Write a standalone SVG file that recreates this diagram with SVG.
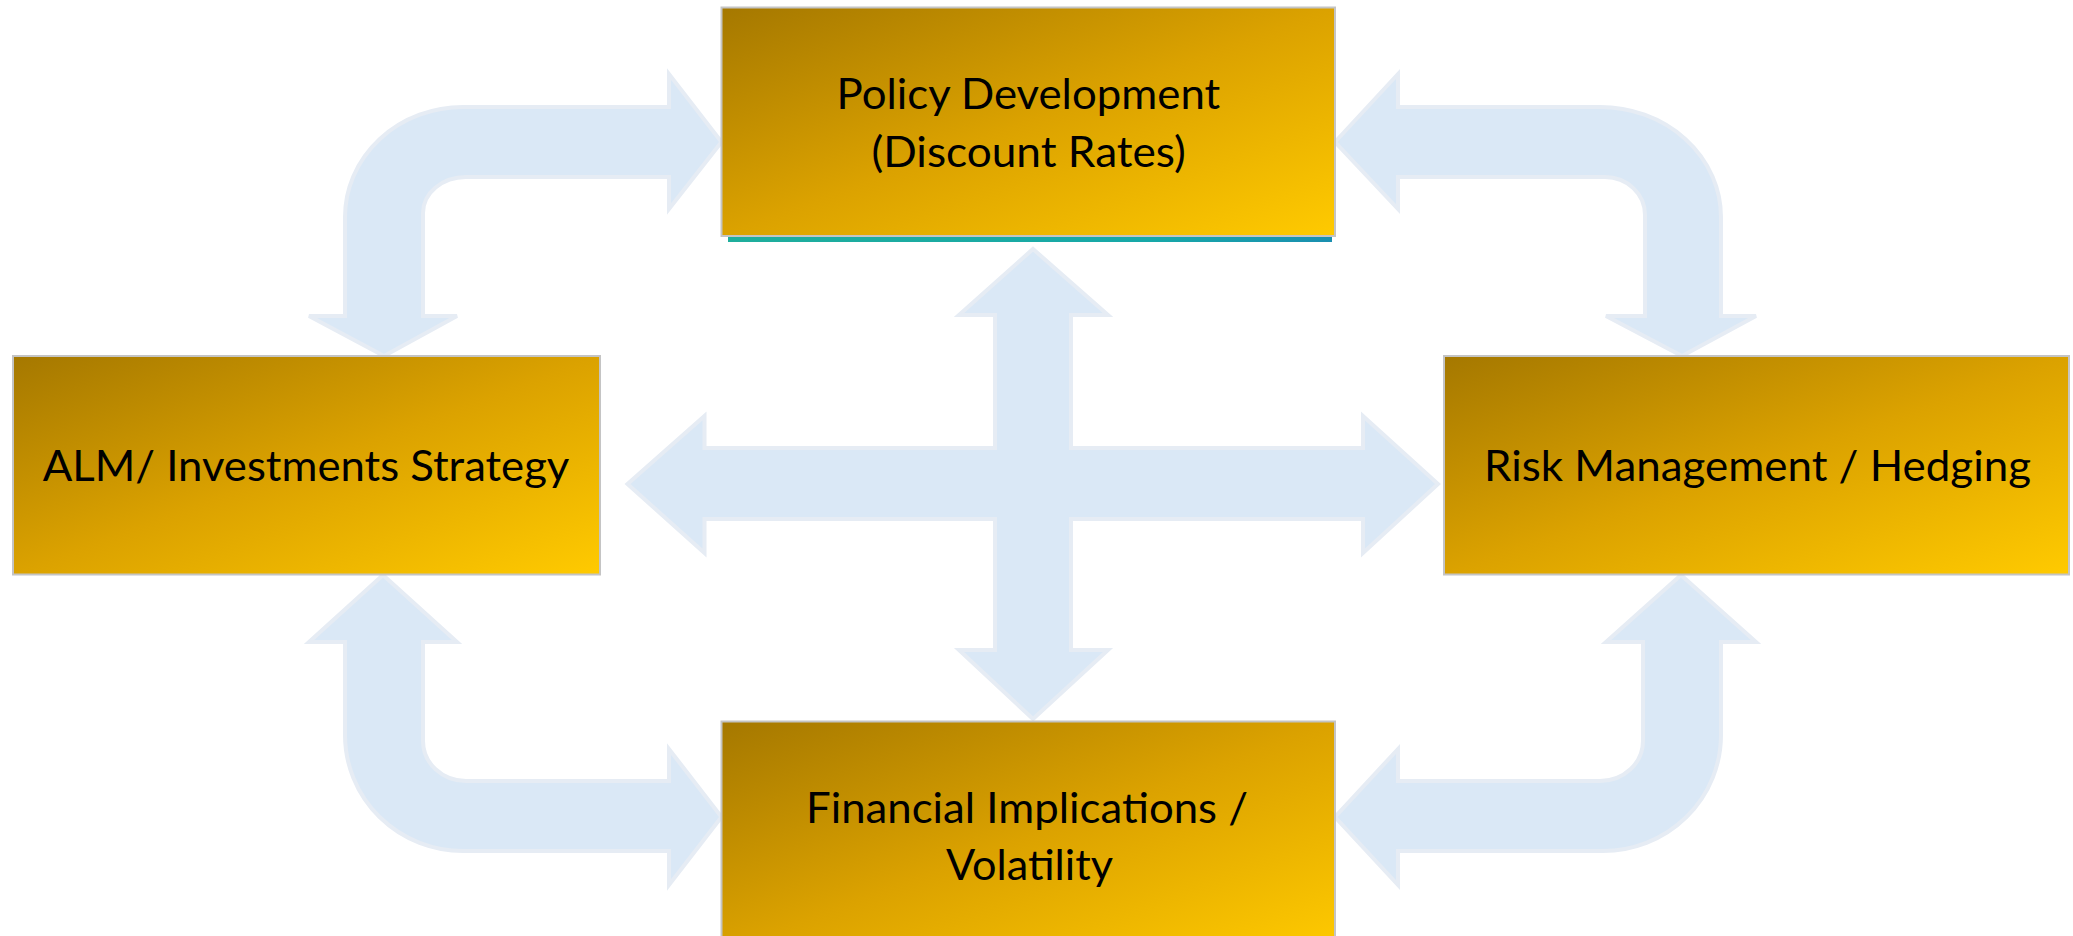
<svg xmlns="http://www.w3.org/2000/svg" width="2073" height="936" viewBox="0 0 2073 936">
  <defs>
    <linearGradient id="gold" x1="0" y1="0" x2="1" y2="1">
      <stop offset="0" stop-color="#a57800"/>
      <stop offset="0.5" stop-color="#dba200"/>
      <stop offset="1" stop-color="#ffca00"/>
    </linearGradient>
    <linearGradient id="teal" x1="0" y1="0" x2="1" y2="0">
      <stop offset="0" stop-color="#1fae9c"/>
      <stop offset="0.7" stop-color="#17a8a8"/>
      <stop offset="1" stop-color="#1a8fb0"/>
    </linearGradient>
  </defs>
  <style>
    .box { fill: url(#gold); stroke: #c4c4c4; stroke-width: 2; }
    .lbl { font-family: Lato, "Open Sans", "Liberation Sans", sans-serif; font-size: 42px; fill: #000000; }
    .arrow { fill: #dae8f6; stroke: #e6ecf4; stroke-width: 4; stroke-linejoin: miter; }
  </style>

  <g id="connectors">
    <path class="arrow" d="M 721.5,142 L 669,209 L 669,177 L 466,177 A 43 36 0 0 0 423,213 L 423,316 L 457,316 L 384,356 L 309,316 L 345,316 L 345,217 A 118 110 0 0 1 463,107 L 669,107 L 669,74 Z"/>
    <path class="arrow" d="M 1335,142 L 1398,74 L 1398,107 L 1600,107 A 121 110 0 0 1 1721,217 L 1721,316 L 1756,316 L 1682,356 L 1606,316 L 1645,316 L 1645,215 A 40 38 0 0 0 1605,177 L 1398,177 L 1398,209 Z"/>
    <path class="arrow" d="M 383,575 L 457,642 L 423,642 L 423,741 A 43 40 0 0 0 466,781 L 669,781 L 669,749 L 721.5,817 L 669,885 L 669,851 L 463,851 A 118 116 0 0 1 345,735 L 345,642 L 309,642 Z"/>
    <path class="arrow" d="M 1681,575 L 1756,642 L 1721,642 L 1721,735 A 118 116 0 0 1 1603,851 L 1398,851 L 1398,885 L 1335,817 L 1398,749 L 1398,781 L 1600,781 A 43 40 0 0 0 1643,741 L 1643,642 L 1606,642 Z"/>
    <path class="arrow" d="M 1033,249 L 1108,315 L 1071,315 L 1071,448 L 1363,448 L 1363,416 L 1438,484 L 1363,553 L 1363,519 L 1071,519 L 1071,650 L 1108,650 L 1033,719 L 959,650 L 995,650 L 995,519 L 704.5,519 L 704.5,553 L 627.5,484 L 704.5,416 L 704.5,448 L 995,448 L 995,315 L 959,315 Z"/>
  </g>

  <g id="node-policy">
    <rect x="728" y="236" width="604" height="6" fill="url(#teal)"/>
    <rect class="box" x="721.5" y="7.5" width="613.5" height="228.5"/>
    <text class="lbl" x="836.6" y="109" textLength="383.6" lengthAdjust="spacingAndGlyphs">Policy Development</text>
    <text class="lbl" x="871.4" y="167" textLength="314.4" lengthAdjust="spacingAndGlyphs">(Discount Rates)</text>
  </g>

  <g id="node-alm">
    <rect class="box" x="13" y="356" width="587" height="218.5"/>
    <text class="lbl" x="42.7" y="481" textLength="526.7" lengthAdjust="spacingAndGlyphs">ALM/ Investments Strategy</text>
  </g>

  <g id="node-risk">
    <rect class="box" x="1444" y="356" width="625" height="218.5"/>
    <text class="lbl" x="1484" y="481" textLength="547" lengthAdjust="spacingAndGlyphs">Risk Management / Hedging</text>
  </g>

  <g id="node-financial">
    <rect class="box" x="721.5" y="721.5" width="613.5" height="230"/>
    <text class="lbl" x="806" y="823" textLength="442" lengthAdjust="spacingAndGlyphs">Financial Implications /</text>
    <text class="lbl" x="946" y="880" textLength="167" lengthAdjust="spacingAndGlyphs">Volatility</text>
  </g>
</svg>
